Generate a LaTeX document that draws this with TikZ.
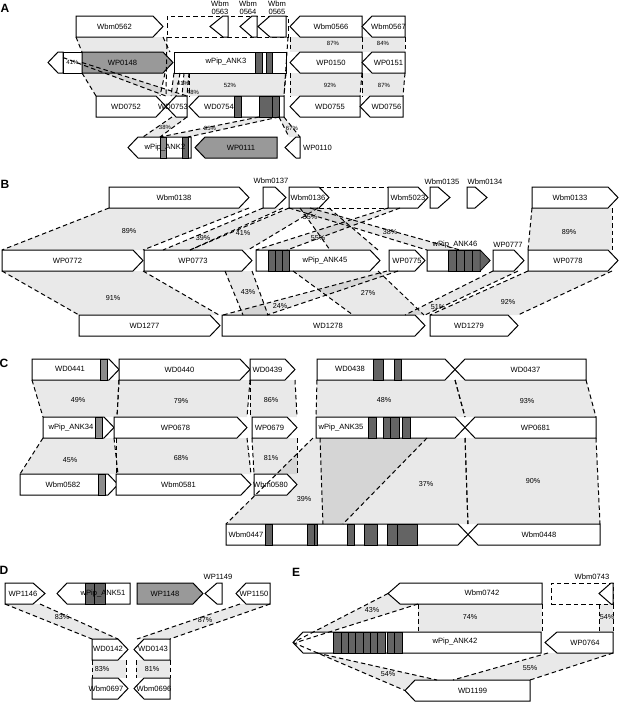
\documentclass[tikz,border=0pt]{standalone}
\usepackage{fontspec}
\setmainfont{Liberation Sans}
\usetikzlibrary{calc}

\definecolor{genegray}{HTML}{999999}
\definecolor{bardark}{HTML}{646464}
\definecolor{barmid}{HTML}{8C8C8C}

\pgfdeclarelayer{bg}
\pgfdeclarelayer{fg}
\pgfsetlayers{bg,main,fg}

\tikzset{
  body/.style={rectangle, inner sep=0pt, outer sep=0pt, minimum height=21pt},
  gene/.style={draw, line width=1pt, line join=miter},
  ptr/.store in=\gptr, ptr=10pt,
  gfill/.store in=\gfill, gfill=white,
  gname/.style={font=\fontsize{7.6}{8}\selectfont, inner sep=0pt},
  pct/.style={font=\fontsize{7.2}{8}\selectfont, inner sep=0pt},
  pcta/.style={font=\fontsize{6}{7}\selectfont, inner sep=0pt},
  panel/.style={font=\bfseries\fontsize{12}{13}\selectfont, inner sep=0pt},
  simfill/.style={fill=black, fill opacity=0.085},
  dashln/.style={line width=1pt, dash pattern=on 4.5pt off 3pt},
  bar/.style={draw, line width=0.5pt, fill=bardark},
  dashbox/.style={body, draw, dashln},
}

% gene pointing right: [opts]{name}{x left}{x right}{y top}{label}
\newcommand{\rgene}[6][]{%
  \begin{scope}[#1]
    \node[body, minimum width={#4-#3}] (#2) at ({(#3+#4)/2},{#5+10.5}) {};
    \draw[gene, fill=\gfill] (#2.north west) -- ([xshift=-\gptr]#2.north east)
      -- (#2.east) -- ([xshift=-\gptr]#2.south east) -- (#2.south west) -- cycle;
    \node[gname] at ([xshift=-\gptr/2]#2.center) {#6};
  \end{scope}}
% gene pointing left
\newcommand{\lgene}[6][]{%
  \begin{scope}[#1]
    \node[body, minimum width={#4-#3}] (#2) at ({(#3+#4)/2},{#5+10.5}) {};
    \draw[gene, fill=\gfill] (#2.west) -- ([xshift=\gptr]#2.north west)
      -- (#2.north east) -- (#2.south east) -- ([xshift=\gptr]#2.south west) -- cycle;
    \node[gname] at ([xshift=\gptr/2]#2.center) {#6};
  \end{scope}}
% ankyrin repeat block inside a gene
\newcommand{\ankbars}[4][bardark]{%
  \filldraw[bar, fill=#1] (#3,0 |- #2.north) rectangle (#4,0 |- #2.south);}
% shaded homology link between four points
\newcommand{\homquad}[4]{%
  \begin{pgfonlayer}{bg}\fill[simfill] #1 -- #2 -- #4 -- #3 -- cycle;\end{pgfonlayer}
  \begin{pgfonlayer}{fg}\draw[dashln] #1 -- #3; \draw[dashln] #2 -- #4;\end{pgfonlayer}}
\newcommand{\homlink}[6]{%
  \homquad{(#2,0 |- #1.south)}{(#3,0 |- #1.south)}{(#5,0 |- #4.north)}{(#6,0 |- #4.north)}}

\begin{document}
\begin{tikzpicture}[x=1pt, y=-1pt]
\useasboundingbox (0,0) rectangle (622,702);

% ================= A =================
\node[panel] (la) at (5,8) {A};

% row 1
\rgene{wbm0562}{76}{163}{16}{Wbm0562}
\node[dashbox, minimum width=121] (boxa) at (227.5,26.5) {};
\lgene[ptr=13pt]{wbm0563}{210}{228}{16}{}
\lgene[ptr=12pt]{wbm0564}{240}{257}{16}{}
\lgene[ptr=12pt]{wbm0565}{258}{286}{16}{}
\node[gname, align=center] (twbm0563) at (220,8) {Wbm\\0563};
\node[gname, align=center] (twbm0564) at (248,8) {Wbm\\0564};
\node[gname, align=center] (twbm0565) at (277,8) {Wbm\\0565};
\lgene{wbm0566}{290}{362}{16}{Wbm0566}
\lgene{wbm0567}{362}{405}{16}{Wbm0567}

% row 2
\lgene{orfa}{48}{63}{52}{}
\node[body, gene, minimum width=19, pcta] (pa41) at (72.5,62.5) {41\%};
\rgene[gfill=genegray]{wp0148}{82}{173}{52}{WP0148}
\node[body, gene, minimum width=112] (anka3) at (230,62.5) {};
\ankbars{anka3}{255}{262}
\ankbars{anka3}{266}{272}
\node[gname] (tanka3) at (226,62) {wPip\_ANK3};
\lgene{wp0150}{290}{362}{52}{WP0150}
\lgene{wp0151}{362}{405}{52}{WP0151}

% row 3
\rgene{wd0752}{96}{166}{96}{WD0752}
\lgene{wd0753}{166}{187}{96}{}
\node[gname] (twd0753) at (173,107) {WD0753};
\lgene{wd0754}{189}{284}{96}{}
\ankbars{wd0754}{234}{241}
\ankbars{wd0754}{259}{272}
\ankbars{wd0754}{272}{279}
\node[gname] (twd0754) at (219,107) {WD0754};
\lgene{wd0755}{290}{360}{96}{WD0755}
\lgene{wd0756}{360}{403}{96}{WD0756}

% row 4
\lgene{anka2}{128}{191}{137}{}
\ankbars[barmid]{anka2}{160}{166}
\ankbars{anka2}{182}{188}
\node[gname] (tanka2) at (165,148) {wPip\_ANK2};
\lgene[gfill=genegray]{wp0111}{195}{277}{137}{WP0111}
\lgene[ptr=11pt]{wp0110}{285}{300}{137}{}
\node[gname, anchor=west] (twp0110) at ([xshift=3pt]wp0110.east) {WP0110};

% links
\homlink{wbm0562}{76}{163}{wp0148}{82}{170}
\homlink{wp0148}{82}{165}{wd0752}{96}{160}
\homlink{anka3}{189}{286}{wd0754}{189}{284}
\homlink{anka3}{174}{180}{wd0753}{171}{176}
\homlink{anka3}{184}{189}{wd0753}{182}{187}
\homquad{([yshift=5pt]pa41.west)}{(pa41.east)}{(wd0753.north west)}{(wd0753.north east)}
\homlink{wd0753}{172}{187}{anka2}{143}{160}
\homlink{wd0754}{259}{279}{anka2}{160}{188}
\homlink{wd0754}{279}{284}{wp0110}{289}{300}
\homlink{wbm0566}{290}{362}{wp0150}{290}{362}
\homlink{wbm0567}{362}{405}{wp0151}{362}{405}
\homlink{wp0150}{290}{362}{wd0755}{290}{360}
\homlink{wp0151}{362}{405}{wd0756}{362}{403}
\begin{pgfonlayer}{fg}
\draw[dashln] (boxa.south west) -- (wd0753.north west);
\draw[dashln] (boxa.south east) -- (wd0754.north east);
\end{pgfonlayer}

\node[pcta] (pa87) at (333,43) {87\%};
\node[pcta] (pa84) at (383,43) {84\%};
\node[pcta] (pa52) at (230,85) {52\%};
\node[pcta] (pa92) at (330,85) {92\%};
\node[pcta] (pa87b) at (384,85) {87\%};
\node[pcta] (pa41b) at (183,83) {41\%};
\node[pcta] (pa48) at (193,92) {48\%};
\node[pcta] (pa38) at (165,127) {38\%};
\node[pcta] (pa35) at (210,128) {35\%};
\node[pcta] (pa67) at (292,128) {67\%};

% ================= B =================
\node[panel] (lb) at (5,184) {B};

% top row
\rgene{wbm0138}{109}{249}{187}{Wbm0138}
\rgene[ptr=11pt]{wbm0137}{263}{286}{187}{}
\node[gname] (twbm0137) at (271,181) {Wbm0137};
\rgene{wbm0136}{289}{329}{187}{}
\node[gname] (twbm0136) at (308,198) {Wbm0136};
\rgene{wbm5023}{388}{428}{187}{}
\node[gname] (twbm5023) at (408,198) {Wbm5023};
\draw[dashln] ([xshift=-10pt]wbm0136.north east) -- (wbm5023.north west);
\draw[dashln] ([xshift=-10pt]wbm0136.south east) -- (wbm5023.south west);
\rgene[ptr=12pt]{wbm0135}{430}{450}{187}{}
\node[gname] (twbm0135) at (442,182) {Wbm0135};
\rgene[ptr=12pt]{wbm0134}{467}{487}{187}{}
\node[gname] (twbm0134) at (485,182) {Wbm0134};
\rgene{wbm0133}{532}{618}{187}{Wbm0133}

% middle row
\rgene{wp0772}{2}{143}{250}{WP0772}
\rgene{wp0773}{144}{252}{250}{WP0773}
\rgene{ank45}{256}{380}{250}{}
\ankbars{ank45}{268}{275}
\ankbars{ank45}{275}{282}
\ankbars{ank45}{282}{289}
\node[gname] (tank45) at (325,261) {wPip\_ANK45};
\rgene{wp0775}{389}{425}{250}{}
\node[gname] (twp0775) at (407,261) {WP0775};
\rgene{ank46}{427}{490}{250}{}
\ankbars{ank46}{448}{456}
\ankbars{ank46}{456}{464}
\ankbars{ank46}{464}{472}
\ankbars{ank46}{472}{480}
\filldraw[bar] ([xshift=-10pt]ank46.north east) -- (ank46.east) -- ([xshift=-10pt]ank46.south east) -- cycle;
\node[gname] (tank46) at (455,245) {wPip\_ANK46};
\rgene{wp0777}{493}{524}{250}{}
\node[gname] (twp0777) at (508,245) {WP0777};
\rgene{wp0778}{528}{618}{250}{WP0778}

% bottom row
\rgene{wd1277}{79}{220}{315}{WD1277}
\rgene{wd1278}{222}{425}{315}{}
\node[gname] (twd1278) at (328,326) {WD1278};
\rgene{wd1279}{430}{518}{315}{WD1279}

% links
\homlink{wbm0138}{109}{249}{wp0772}{2}{143}
\homlink{wp0772}{2}{143}{wd1277}{79}{219}
\homlink{wbm0137}{263}{283}{wp0773}{163}{190}
\homlink{wbm0136}{289}{318}{wp0773}{190}{248}
\homlink{wbm0136}{300}{329}{ank45}{330}{378}
\homlink{wbm5023}{388}{400}{ank45}{256}{287}
\homlink{wbm0136}{289}{310}{ank46}{427}{460}
\homlink{wp0773}{225}{252}{wd1278}{243}{268}
\homlink{wp0775}{387}{398}{wd1278}{223}{267}
\homlink{ank45}{293}{378}{wd1278}{353}{424}
\homlink{wp0777}{493}{518}{wd1278}{405}{425}
\homlink{wbm0133}{532}{612}{wp0778}{528}{612}
\homlink{wp0778}{528}{612}{wd1279}{430}{518}

\node[pct] (pb89) at (129,231) {89\%};
\node[pct] (pb91) at (113,298) {91\%};
\node[pct] (pb39) at (203,238) {39\%};
\node[pct] (pb41) at (243,233) {41\%};
\node[pct] (pb35) at (310,217) {35\%};
\node[pct] (pb55) at (318,238) {55\%};
\node[pct] (pb38) at (390,232) {38\%};
\node[pct] (pb43) at (248,292) {43\%};
\node[pct] (pb24) at (280,306) {24\%};
\node[pct] (pb27) at (368,293) {27\%};
\node[pct] (pb51) at (438,307) {51\%};
\node[pct] (pb89b) at (569,232) {89\%};
\node[pct] (pb92) at (508,302) {92\%};

% ================= C =================
\node[panel] (lc) at (4,363) {C};

% top row
\rgene{wd0441}{32}{119}{359}{}
\ankbars[barmid]{wd0441}{100}{107}
\node[gname] (twd0441) at (70,369) {WD0441};
\rgene{wd0440}{119}{250}{359}{WD0440}
\rgene{wd0439}{250}{295}{359}{WD0439}
\rgene{wd0438}{317}{455}{359}{}
\ankbars{wd0438}{373}{383}
\ankbars{wd0438}{394}{401}
\node[gname] (twd0438) at (350,369) {WD0438};
\lgene{wd0437}{455}{586}{359}{WD0437}

% middle row
\rgene{ank34}{43}{114}{417}{}
\ankbars[barmid]{ank34}{95}{102}
\node[gname] (tank34) at (71,428) {wPip\_ANK34};
\rgene{wp0678}{114}{247}{417}{WP0678}
\rgene{wp0679}{252}{297}{417}{WP0679}
\rgene{ank35}{316}{465}{417}{}
\ankbars{ank35}{368}{376}
\ankbars{ank35}{383}{390}
\ankbars{ank35}{390}{399}
\ankbars{ank35}{402}{410}
\node[gname] (tank35) at (341,428) {wPip\_ANK35};
\lgene{wp0681}{465}{596}{417}{WP0681}

% bottom row
\rgene{wbm0582}{20}{118}{474}{}
\ankbars[barmid]{wbm0582}{98}{105}
\node[gname] (twbm0582) at (63,485) {Wbm0582};
\rgene{wbm0581}{116}{251}{474}{Wbm0581}
\rgene{wbm0580}{254}{297}{474}{Wbm0580}

% lowest row
\rgene{wbm0447}{226}{468}{524}{}
\ankbars{wbm0447}{265}{272}
\ankbars{wbm0447}{307}{314}
\ankbars{wbm0447}{314}{317}
\ankbars{wbm0447}{347}{354}
\ankbars{wbm0447}{364}{377}
\ankbars{wbm0447}{387}{397}
\ankbars{wbm0447}{397}{417}
\node[gname] (twbm0447) at (246,535) {Wbm0447};
\lgene{wbm0448}{468}{600}{524}{Wbm0448}

% links
\homlink{wd0441}{32}{119}{ank34}{43}{117}
\homlink{wd0440}{119}{250}{wp0678}{117}{247}
\homlink{wd0439}{250}{295}{wp0679}{250}{297}
\homlink{wd0438}{317}{455}{ank35}{316}{465}
\homlink{wd0437}{455}{586}{wp0681}{465}{596}
\homlink{ank34}{43}{114}{wbm0582}{20}{118}
\homlink{wp0678}{116}{247}{wbm0581}{116}{251}
\homlink{wp0679}{252}{297}{wbm0580}{254}{297}
\homlink{ank35}{313}{427}{wbm0447}{226}{343}
\homlink{ank35}{320}{465}{wbm0447}{323}{468}
\homlink{wp0681}{465}{596}{wbm0448}{468}{600}

\node[pct] (pc49) at (78,400) {49\%};
\node[pct] (pc79) at (181,401) {79\%};
\node[pct] (pc86) at (271,400) {86\%};
\node[pct] (pc48) at (384,400) {48\%};
\node[pct] (pc93) at (527,401) {93\%};
\node[pct] (pc45) at (70,460) {45\%};
\node[pct] (pc68) at (181,458) {68\%};
\node[pct] (pc81) at (271,458) {81\%};
\node[pct] (pc39) at (304,499) {39\%};
\node[pct] (pc37) at (426,484) {37\%};
\node[pct] (pc90) at (533,481) {90\%};

% ================= D =================
\node[panel] (ld) at (4,570) {D};

\rgene[ptr=12pt]{wp1146}{5}{45}{583}{}
\node[gname] (twp1146) at (23,594) {WP1146};
\lgene{ank51}{57}{130}{583}{}
\ankbars{ank51}{85}{94}
\ankbars{ank51}{94}{105}
\node[gname] (tank51) at (103,594) {wPip\_ANK51};
\rgene[gfill=genegray]{wp1148}{137}{203}{583}{WP1148}
\lgene[ptr=12pt]{wp1149}{205}{222}{583}{}
\node[gname] (twp1149) at (218,577) {WP1149};
\lgene{wp1150}{236}{270}{583}{}
\node[gname] (twp1150) at (254,594) {WP1150};

\rgene{wd0142}{92}{128}{639}{}
\node[gname] (twd0142) at (108,649) {WD0142};
\lgene{wd0143}{134}{170}{639}{}
\node[gname] (twd0143) at (153,649) {WD0143};
\rgene{wbm0697}{92}{128}{678}{}
\node[gname] (twbm0697) at (106,689) {Wbm0697};
\lgene{wbm0696}{134}{170}{678}{}
\node[gname] (twbm0696) at (154,689) {Wbm0696};

\homlink{wp1146}{5}{40}{wd0142}{92}{118}
\homlink{wp1150}{240}{270}{wd0143}{137}{170}
\homlink{wd0142}{92}{126}{wbm0697}{92}{126}
\homlink{wd0143}{136}{170}{wbm0696}{136}{170}

\node[pct] (pd83) at (62,617) {83\%};
\node[pct] (pd87) at (205,620) {87\%};
\node[pct] (pd83b) at (102,669) {83\%};
\node[pct] (pd81) at (152,669) {81\%};

% ================= E =================
\node[panel] (le) at (296,572) {E};

\lgene[ptr=12pt]{wbm0742}{388}{542}{583}{}
\node[gname] (twbm0742) at (482,593) {Wbm0742};
\node[dashbox, minimum width=62] (boxe) at (582,593.5) {};
\lgene[ptr=12pt]{wbm0743}{599}{613}{583}{}
\node[gname] (twbm0743) at (592,577) {Wbm0743};

\lgene{ank42}{293}{541}{632}{}
\ankbars{ank42}{333}{341}
\ankbars{ank42}{341}{348}
\ankbars{ank42}{348}{355}
\ankbars{ank42}{355}{363}
\ankbars{ank42}{363}{370}
\ankbars{ank42}{370}{377}
\ankbars{ank42}{377}{385}
\ankbars{ank42}{387}{394}
\ankbars{ank42}{394}{402}
\node[gname] (tank42) at (455,642) {wPip\_ANK42};
\lgene[ptr=12pt]{wp0764}{545}{613}{632}{WP0764}

\lgene{wd1199}{405}{530}{680}{WD1199}

\homlink{wbm0742}{418}{542}{ank42}{418}{542}
\homquad{(wbm0742.west)}{(418,0 |- wbm0742.south)}{(ank42.west)}{([xshift=3pt]ank42.west)}
\homlink{boxe}{599}{613}{wp0764}{599}{613}
\homquad{(ank42.west)}{(317,0 |- ank42.south)}{(wd1199.west)}{(437,0 |- wd1199.north)}
\homlink{wp0764}{548}{613}{wd1199}{453}{530}

\node[pct] (pe43) at (372,610) {43\%};
\node[pct] (pe74) at (470,617) {74\%};
\node[pct] (pe54) at (607,617) {54\%};
\node[pct] (pe54b) at (388,674) {54\%};
\node[pct] (pe55) at (530,668) {55\%};

\end{tikzpicture}
\end{document}
